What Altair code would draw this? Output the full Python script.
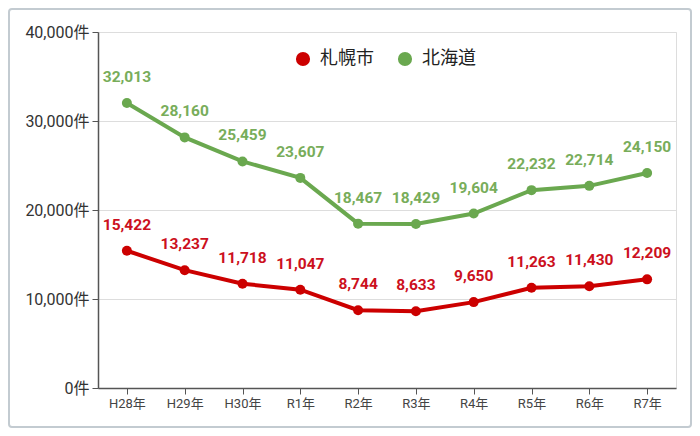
import altair as alt
import pandas as pd

years = ["H28年", "H29年", "H30年", "R1年", "R2年", "R3年", "R4年", "R5年", "R6年", "R7年"]
sapporo = [15422, 13237, 11718, 11047, 8744, 8633, 9650, 11263, 11430, 12209]
hokkaido = [32013, 28160, 25459, 23607, 18467, 18429, 19604, 22232, 22714, 24150]
series_names = ["札幌市", "北海道"]
line_colors = ["#cc0000", "#6aa84f"]
label_colors = ["#cc1020", "#78ad5a"]

rows = []
for i, y in enumerate(years):
    rows.append({"year": y, "series": series_names[0], "value": sapporo[i]})
    rows.append({"year": y, "series": series_names[1], "value": hokkaido[i]})
df = pd.DataFrame(rows)

FONT = "Roboto, Noto Sans CJK JP, sans-serif"

x = alt.X("year:N", sort=years, scale=alt.Scale(type="point", padding=0.5),
          axis=alt.Axis(title=None, labelAngle=0, labelFontSize=13, labelColor="#444",
                        labelFont=FONT, tickSize=6, tickColor="#555", domainColor="#555",
                        domainWidth=1.5, labelPadding=3, grid=False))
y = alt.Y("value:Q", scale=alt.Scale(domain=[0, 40000], nice=False),
          axis=alt.Axis(title=None, values=[0, 10000, 20000, 30000, 40000],
                        labelExpr="format(datum.value, ',') + '件'",
                        labelFontSize=16, labelColor="#333", labelFont=FONT,
                        tickSize=6, tickColor="#555", domainColor="#555", domainWidth=1.5,
                        gridColor="#dddddd", labelPadding=3))

base = alt.Chart(df)

lines = base.mark_line(strokeWidth=4).encode(
    x=x, y=y,
    color=alt.Color("series:N", scale=alt.Scale(domain=series_names, range=line_colors), legend=None))
points = base.mark_circle(size=100, opacity=1).encode(
    x=x, y=y,
    color=alt.Color("series:N", scale=alt.Scale(domain=series_names, range=line_colors),
                    legend=alt.Legend(title=None, orient="none", direction="horizontal",
                                      legendX=196, legendY=18, symbolType="circle",
                                      symbolSize=200, labelFontSize=18, labelFont=FONT,
                                      labelColor="#222", columnPadding=22, labelOffset=8)))
labels = base.mark_text(fontSize=15.5, fontWeight="bold", font=FONT, dy=-26).encode(
    x=x, y=y, text=alt.Text("value:Q", format=","),
    color=alt.Color("series:N", scale=alt.Scale(domain=series_names, range=label_colors), legend=None))

frame = alt.Chart(pd.DataFrame({"k": [0]})).mark_rect(
    fill=None, stroke="#c3cbd1", strokeWidth=2, cornerRadius=3
).encode(x=alt.value(-89), x2=alt.value(593), y=alt.value(-23), y2=alt.value(395))

chart = alt.layer(frame, lines, points, labels).resolve_scale(color="independent").properties(
    width=578, height=356,
    autosize=alt.AutoSizeParams(type="none"),
    padding={"left": 90, "top": 24, "right": 16, "bottom": 40},
).configure_view(stroke=None).configure(background="white")

chart.save("out.html", embed_options={"renderer": "svg", "actions": False})
